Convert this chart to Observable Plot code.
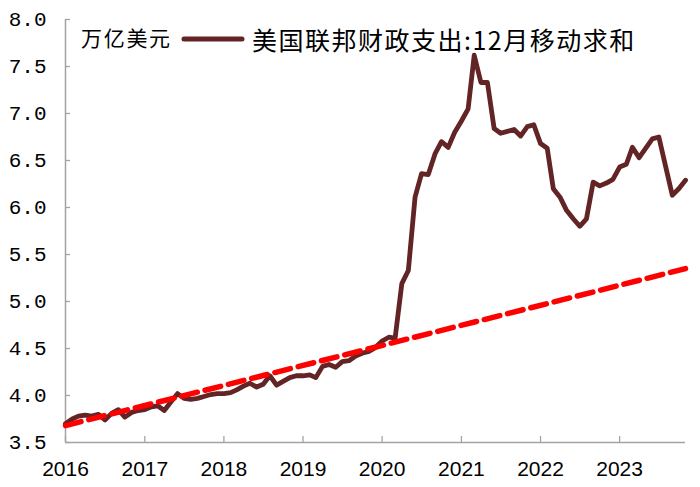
<!DOCTYPE html>
<html>
<head>
<meta charset="utf-8">
<script src="https://cdn.jsdelivr.net/npm/d3@7"></script>
<script src="https://cdn.jsdelivr.net/npm/@observablehq/plot@0.6"></script>
<style>
  html, body { margin: 0; padding: 0; background: #fff; }
  #wrap { position: relative; width: 700px; height: 487px; }
  #unit { position: absolute; left: 81px; top: 27px; font: 21px "Noto Sans CJK SC", sans-serif; letter-spacing: 1.7px; color: #000; line-height: 1; white-space: nowrap; }
  #leg { position: absolute; left: 181px; top: 27px; font: 25px "Noto Sans CJK SC", sans-serif; color: #000; line-height: 1; white-space: nowrap; display: flex; align-items: center; }
  #leg span { letter-spacing: 1.5px; }
  #leg svg { margin-right: 7px; }
</style>
</head>
<body>
<div id="wrap">
  <div id="chart"></div>
  <div id="unit">万亿美元</div>
  <div id="leg"><svg width="64" height="10"><line x1="3" y1="4" x2="61" y2="4" stroke="#622424" stroke-width="5" stroke-linecap="round"/></svg><span>美国联邦财政支出:12月移动求和</span></div>
</div>
<script>
// Monthly, Jan 2016 .. Nov 2023 (trillion USD, 12-month rolling sum)
const spending = [
  3.70, 3.75, 3.78, 3.79, 3.78, 3.80, 3.74, 3.81, 3.85, 3.77, 3.82, 3.84,
  3.85, 3.88, 3.89, 3.84, 3.93, 4.02, 3.97, 3.96, 3.97, 3.99, 4.01, 4.02,
  4.02, 4.03, 4.06, 4.10, 4.13, 4.09, 4.12, 4.21, 4.11, 4.15, 4.19, 4.21,
  4.21, 4.22, 4.19, 4.31, 4.33, 4.30, 4.36, 4.37, 4.42, 4.45, 4.47, 4.51,
  4.58, 4.62, 4.61, 5.19, 5.33, 6.11, 6.36, 6.35, 6.57, 6.70, 6.64, 6.80,
  6.92, 7.05, 7.62, 7.33, 7.33, 6.84, 6.79, 6.81, 6.83, 6.76, 6.86, 6.88,
  6.68, 6.63, 6.20, 6.11, 5.97, 5.88, 5.80, 5.88, 6.27, 6.23, 6.26, 6.30,
  6.43, 6.46, 6.64, 6.53, 6.63, 6.73, 6.75, 6.44, 6.13, 6.20, 6.29
];
const trendDates = ["2016-01-01", "2023-11-01"];
const trendValues = [3.68, 5.35];
const yTicks = [3.5, 4.0, 4.5, 5.0, 5.5, 6.0, 6.5, 7.0, 7.5, 8.0];
const xTickYears = [2016, 2017, 2018, 2019, 2020, 2021, 2022, 2023];

const months = spending.map((_, i) => new Date(Date.UTC(2016, i, 1)));
const series = spending.map((v, i) => ({date: months[i], value: v}));
const trend = trendValues.map((v, i) => ({date: new Date(trendDates[i]), value: v}));
const xTicks = xTickYears.map(y => new Date(Date.UTC(y, 0, 1)));

const W = 700, H = 487;
const mL = 65, mR = 15, mT = 19, mB = 45;
const axisColor = "#a3a3a3";

const chart = Plot.plot({
  width: W, height: H,
  marginLeft: mL, marginRight: mR, marginTop: mT, marginBottom: mB,
  style: {background: "#fff", color: "#000", overflow: "visible"},
  x: {type: "utc", domain: [months[0], months[months.length - 1]]},
  y: {domain: [3.5, 8.0]},
  marks: [
    Plot.ruleY(yTicks, {stroke: axisColor, strokeWidth: 1.3, insetRight: W - mL - mR - 5}),
    Plot.ruleX(xTicks, {stroke: axisColor, strokeWidth: 1.3, insetTop: H - mT - mB - 6}),
    Plot.ruleY([yTicks[0]], {stroke: axisColor, strokeWidth: 1.5}),
    Plot.ruleX([months[0]], {stroke: axisColor, strokeWidth: 1.5}),
    Plot.axisY({ticks: yTicks, tickSize: 0, tickPadding: 19, tickFormat: d3.format(".1f"),
      fontSize: 21, fontFamily: "Liberation Mono, monospace", label: null}),
    Plot.axisX({ticks: xTicks, tickSize: 0, tickPadding: 19, tickFormat: d3.utcFormat("%Y"),
      fontSize: 21, fontFamily: "Liberation Sans, Arial, sans-serif", label: null}),
    Plot.line(series, {x: "date", y: "value", stroke: "#622424", strokeWidth: 4.8,
      strokeLinejoin: "round", strokeLinecap: "round"}),
    Plot.line(trend, {x: "date", y: "value", stroke: "#ff0000", strokeWidth: 5.5,
      strokeDasharray: "16,8"})
  ]
});
document.getElementById("chart").appendChild(chart);
</script>
</body>
</html>
